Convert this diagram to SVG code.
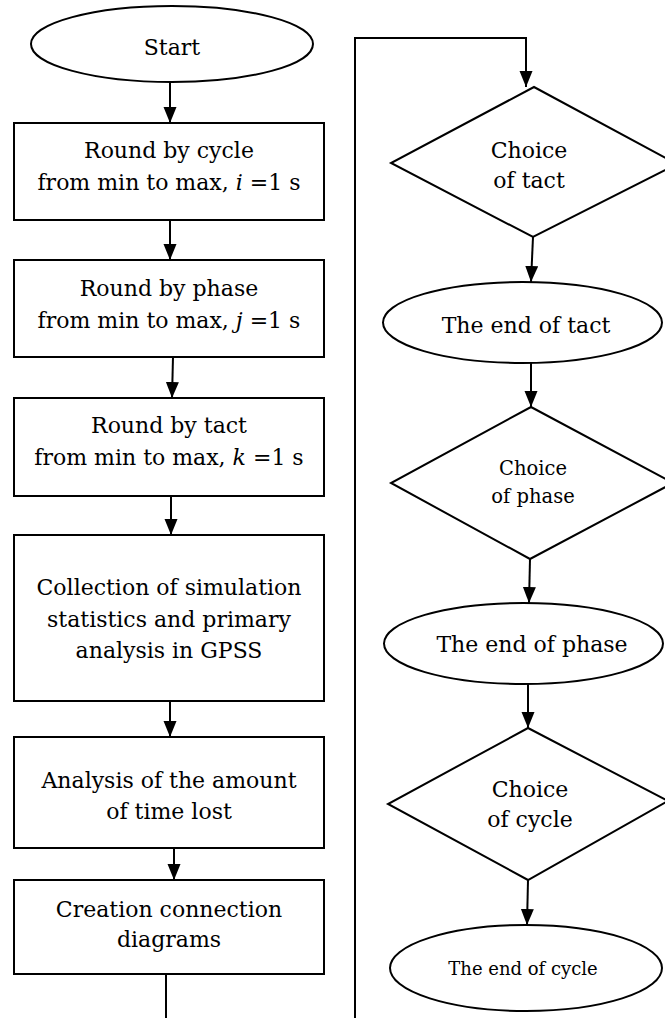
<svg xmlns="http://www.w3.org/2000/svg" width="665" height="1018" viewBox="0 0 665 1018">
<style>
.s{fill:#fff;stroke:#000;stroke-width:2}
.t{font-family:"DejaVu Serif","Liberation Serif",serif;font-size:22px;fill:#000;text-anchor:middle}
.sm{font-size:19.5px}
.xs{font-size:18px}
.c{fill:none;stroke:#000;stroke-width:2}
</style>
<defs>
<marker id="ah" markerUnits="userSpaceOnUse" markerWidth="18" markerHeight="14" refX="16" refY="6.5" orient="auto">
<path d="M0,0 L16,6.5 L0,13 z" fill="#000"/>
</marker>
</defs>
<rect width="665" height="1018" fill="#fff"/>
<g id="connectors">
<line class="c" x1="170" y1="82" x2="170" y2="123" marker-end="url(#ah)"/>
<line class="c" x1="170" y1="220" x2="170" y2="260" marker-end="url(#ah)"/>
<line class="c" x1="173" y1="357" x2="172" y2="398" marker-end="url(#ah)"/>
<line class="c" x1="171" y1="496" x2="171" y2="535" marker-end="url(#ah)"/>
<line class="c" x1="170" y1="701" x2="170" y2="737" marker-end="url(#ah)"/>
<line class="c" x1="174" y1="848" x2="174" y2="880" marker-end="url(#ah)"/>
<line class="c" x1="166" y1="974" x2="166" y2="1018"/>
<polyline class="c" points="355,1018 355,38 526,38 526,87" marker-end="url(#ah)"/>
<line class="c" x1="533" y1="237" x2="531" y2="282" marker-end="url(#ah)"/>
<line class="c" x1="531" y1="363" x2="531" y2="407" marker-end="url(#ah)"/>
<line class="c" x1="530" y1="559" x2="529" y2="603" marker-end="url(#ah)"/>
<line class="c" x1="528" y1="684" x2="528" y2="728" marker-end="url(#ah)"/>
<line class="c" x1="528" y1="880" x2="527" y2="925" marker-end="url(#ah)"/>
</g>
<g id="start">
<ellipse class="s" cx="172" cy="44" rx="141" ry="38"/>
<text class="t" x="172" y="55">Start</text>
</g>
<g id="round-cycle">
<rect class="s" x="14" y="123" width="310" height="97"/>
<text class="t" x="169" y="158">Round by cycle</text>
<text class="t" x="169" y="190">from min to max, <tspan font-style="italic">i</tspan> =1 s</text>
</g>
<g id="round-phase">
<rect class="s" x="14" y="260" width="310" height="97"/>
<text class="t" x="169" y="296">Round by phase</text>
<text class="t" x="169" y="328">from min to max, <tspan font-style="italic">j</tspan> =1 s</text>
</g>
<g id="round-tact">
<rect class="s" x="14" y="398" width="310" height="98"/>
<text class="t" x="169" y="433">Round by tact</text>
<text class="t" x="169" y="465">from min to max, <tspan font-style="italic">k</tspan> =1 s</text>
</g>
<g id="collection">
<rect class="s" x="14" y="535" width="310" height="166"/>
<text class="t" x="169" y="595">Collection of simulation</text>
<text class="t" x="169" y="627">statistics and primary</text>
<text class="t" x="169" y="658">analysis in GPSS</text>
</g>
<g id="analysis">
<rect class="s" x="14" y="737" width="310" height="111"/>
<text class="t" x="169" y="788">Analysis of the amount</text>
<text class="t" x="169" y="819">of time lost</text>
</g>
<g id="creation">
<rect class="s" x="14" y="880" width="310" height="94"/>
<text class="t" x="169" y="917">Creation connection</text>
<text class="t" x="169" y="947">diagrams</text>
</g>
<g id="choice-tact">
<polygon class="s" points="534,87 677,164 533,237 391,163"/>
<text class="t" x="529" y="158">Choice</text>
<text class="t" x="529" y="188">of tact</text>
</g>
<g id="end-tact">
<ellipse class="s" cx="522.5" cy="322.5" rx="139.5" ry="40.5"/>
<text class="t" x="526" y="333">The end of tact</text>
</g>
<g id="choice-phase">
<polygon class="s" points="531,407 673,483 530,559 391,483"/>
<text class="t sm" x="533" y="475">Choice</text>
<text class="t sm" x="533" y="503">of phase</text>
</g>
<g id="end-phase">
<ellipse class="s" cx="523.5" cy="643.5" rx="139.5" ry="40.5"/>
<text class="t" x="532" y="652">The end of phase</text>
</g>
<g id="choice-cycle">
<polygon class="s" points="528,728 668,801 528,880 388,804"/>
<text class="t" x="530" y="797">Choice</text>
<text class="t" x="530" y="827">of cycle</text>
</g>
<g id="end-cycle">
<ellipse class="s" cx="526" cy="968" rx="136" ry="43"/>
<text class="t xs" x="523" y="975">The end of cycle</text>
</g>
</svg>
